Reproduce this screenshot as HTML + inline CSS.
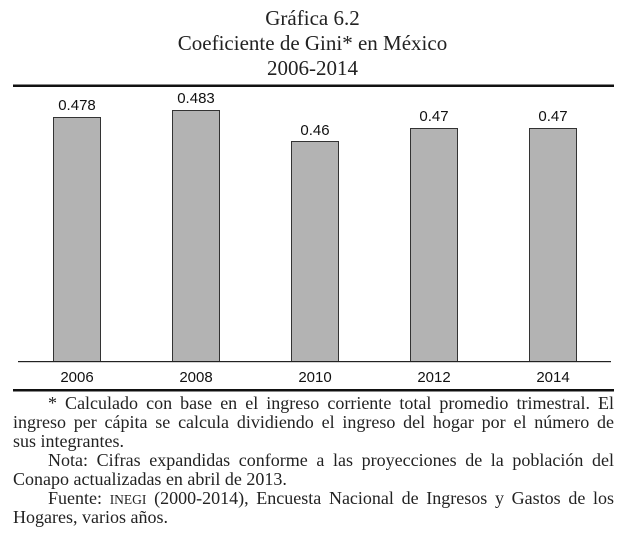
<!DOCTYPE html>
<html><head><meta charset="utf-8"><style>
body{margin:0;width:625px;height:538px;background:#fff;overflow:hidden;position:relative;font-family:"Liberation Serif",serif;color:#222}
.t{position:absolute;left:0;width:625px;text-align:center;font-size:21px;line-height:24px}
.l{position:absolute;left:13px;width:601px;font-size:18px;line-height:19px;white-space:nowrap}
.j{text-align:justify;text-align-last:justify}
.sc{font-size:13.5px}
</style></head><body>
<div class="t" style="top:6px">Gráfica 6.2</div>
<div class="t" style="top:31px">Coeficiente de Gini* en México</div>
<div class="t" style="top:56px">2006-2014</div>
<svg width="625" height="395" style="position:absolute;left:0;top:0" font-family="Liberation Sans, sans-serif" font-size="15" fill="#111">
<rect x="13" y="84.5" width="601" height="2.5" fill="#111"/>
<g fill="#b3b3b3" stroke="#333" stroke-width="1">
<rect x="53.5" y="117.5" width="47" height="244"/>
<rect x="172.5" y="110.5" width="47" height="251"/>
<rect x="291.5" y="141.5" width="47" height="220"/>
<rect x="410.5" y="128.5" width="47" height="233"/>
<rect x="529.5" y="128.5" width="47" height="233"/>
</g>
<g text-anchor="middle">
<text x="77" y="110">0.478</text><text x="196" y="103">0.483</text><text x="315" y="135">0.46</text><text x="434" y="121">0.47</text><text x="553" y="121">0.47</text>
<text x="77" y="382">2006</text><text x="196" y="382">2008</text><text x="315" y="382">2010</text><text x="434" y="382">2012</text><text x="553" y="382">2014</text>
</g>
<rect x="18" y="361" width="593" height="1.2" fill="#222"/>
<rect x="13" y="389" width="601" height="2.5" fill="#111"/>
</svg>
<div class="l j" style="top:394px;left:48px;width:566px">* Calculado con base en el ingreso corriente total promedio trimestral. El</div>
<div class="l j" style="top:413px">ingreso per cápita se calcula dividiendo el ingreso del hogar por el número de</div>
<div class="l" style="top:432px">sus integrantes.</div>
<div class="l j" style="top:451px;left:48px;width:566px">Nota: Cifras expandidas conforme a las proyecciones de la población del</div>
<div class="l" style="top:470px">Conapo actualizadas en abril de 2013.</div>
<div class="l j" style="top:489px;left:48px;width:566px">Fuente: <span class="sc">INEGI</span> (2000-2014), Encuesta Nacional de Ingresos y Gastos de los</div>
<div class="l" style="top:508px">Hogares, varios años.</div>
</body></html>
